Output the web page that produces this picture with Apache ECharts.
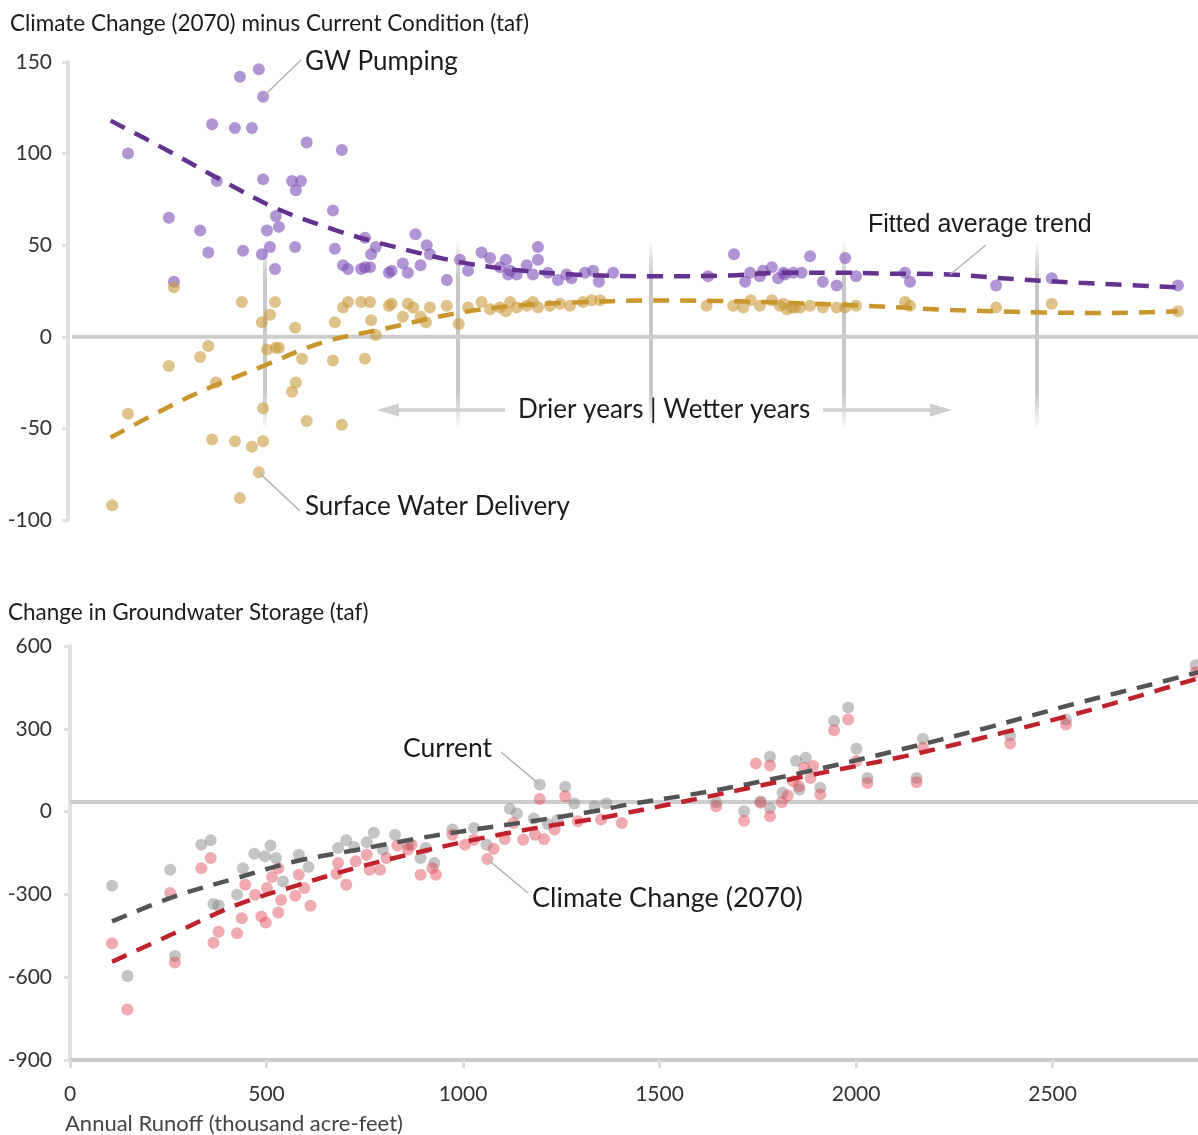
<!DOCTYPE html>
<html><head><meta charset="utf-8">
<script src="https://cdn.jsdelivr.net/npm/echarts@6/dist/echarts.min.js"></script>
<style>html,body{margin:0;padding:0;background:#fff}#c{width:1198px;height:1135px}</style>
</head><body><div id="c"></div>
<script>
// ---------- DATA (runoff in thousand acre-feet, values in taf) ----------
const gwPumping = [[145,100],[251,65],[264,30],[332,58],[353,46],[363,116],[375,85],[422,114],[435,142],[443,47],[466,114],[484,146],[492,45],[495,131],[495,86],[505,58],[513,49],[526,37],[528,66],[536,60],[570,85],[578,49],[580,80],[593,85],[608,106],[676,69],[681,48],[699,102],[702,39],[715,37],[749,37],[759,38],[759,54],[772,38],[775,45],[787,49],[821,35],[828,36],[857,40],[870,35],[890,56],[903,39],[919,50],[927,45],[971,31],[1005,42],[1026,36],[1061,46],[1083,43],[1109,38],[1124,42],[1130,34],[1135,36],[1152,34],[1178,39],[1194,34],[1207,49],[1207,42],[1233,35],[1259,31],[1281,34],[1294,32],[1329,35],[1350,36],[1365,30],[1402,35],[1648,33],[1715,45],[1744,30],[1757,35],[1782,33],[1790,36],[1813,38],[1829,32],[1843,35],[1847,34],[1868,35],[1890,35],[1912,44],[1945,30],[1981,28],[2003,43],[2031,33],[2158,35],[2171,30],[2394,28],[2538,32],[2865,28]];
const swDelivery = [[104,-92],[145,-42],[251,-16],[264,27],[332,-11],[353,-5],[363,-56],[373,-25],[422,-57],[435,-88],[440,19],[466,-60],[484,-74],[492,8],[495,-39],[495,-57],[505,-7],[513,12],[526,19],[528,-6],[536,-6],[570,-30],[578,5],[580,-25],[596,-12],[608,-46],[676,-13],[681,8],[699,-48],[702,16],[715,19],[749,19],[759,-12],[772,19],[775,9],[787,1],[821,17],[828,18],[857,11],[870,18],[884,16],[903,11],[917,8],[927,16],[971,17],[1002,7],[1026,16],[1061,19],[1083,15],[1109,16],[1124,14],[1135,19],[1152,16],[1178,17],[1194,19],[1207,16],[1238,17],[1264,18],[1290,17],[1324,19],[1346,20],[1368,20],[1644,17],[1713,17],[1739,16],[1758,20],[1782,17],[1813,20],[1834,17],[1843,18],[1852,15],[1864,16],[1873,16],[1886,16],[1912,17],[1945,16],[1981,16],[2003,16],[2031,17],[2158,19],[2171,17],[2394,16],[2538,18],[2865,14]];
const gwTrend = [[100,118],[245,102],[400,84],[530,70],[686,58],[800,51],[1000,41],[1150,36.5],[1300,34],[1500,33],[1700,33.5],[1850,35],[2000,35],[2100,34.5],[2270,34],[2440,31.5],[2610,29.5],[2865,27]];
const swTrend = [[100,-55],[306,-32.5],[495,-16],[650,-3],[800,4],[1000,13],[1150,17],[1300,18.7],[1500,19.8],[1660,19.6],[1830,18.7],[2050,17],[2270,14.7],[2520,13.3],[2700,13],[2865,14]];

const currentStorage = [[107,-269],[146,-596],[255,-211],[267,-523],[334,-120],[358,-104],[365,-335],[378,-340],[425,-301],[440,-205],[469,-153],[496,-162],[510,-123],[524,-168],[542,-253],[582,-156],[607,-201],[682,-132],[703,-104],[723,-128],[755,-111],[773,-77],[796,-138],[827,-84],[860,-120],[892,-168],[905,-132],[927,-186],[973,-65],[1028,-59],[1060,-120],[1119,10],[1137,-7],[1180,-25],[1195,98],[1215,-45],[1240,-30],[1260,90],[1283,29],[1335,19],[1365,29],[1644,34],[1715,1],[1757,37],[1781,199],[1781,13],[1813,68],[1847,183],[1856,80],[1872,195],[1909,86],[1944,328],[1980,377],[2001,228],[2029,122],[2154,122],[2170,264],[2392,276],[2534,334],[2864,530]];
const climateStorage = [[107,-477],[146,-717],[255,-295],[267,-547],[334,-205],[358,-168],[365,-475],[378,-435],[425,-441],[437,-386],[446,-265],[471,-301],[487,-380],[498,-402],[501,-277],[514,-237],[530,-366],[537,-320],[530,-205],[573,-305],[582,-229],[596,-277],[612,-341],[678,-225],[682,-186],[703,-265],[727,-180],[755,-156],[762,-211],[789,-211],[805,-168],[833,-123],[860,-138],[869,-120],[892,-229],[922,-205],[931,-229],[973,-84],[1005,-120],[1028,-102],[1062,-172],[1078,-135],[1106,-99],[1128,-41],[1153,-102],[1183,-84],[1195,46],[1206,-99],[1233,-65],[1260,56],[1292,-35],[1351,-29],[1404,-41],[1644,19],[1715,-33],[1745,174],[1757,32],[1781,167],[1781,-17],[1811,34],[1826,58],[1840,110],[1854,92],[1868,159],[1884,122],[1891,165],[1909,62],[1944,295],[1980,334],[2001,183],[2029,104],[2154,106],[2170,231],[2392,247],[2534,316],[2864,505]];
const currentTrend = [[107,-398],[265,-308],[424,-241],[574,-180],[724,-140],[878,-99],[1028,-65],[1187,-32],[1333,1],[1418,25],[1642,77],[1869,143],[2097,219],[2323,300],[2552,389],[2777,470],[2870,505]];
const climateTrend = [[107,-544],[265,-441],[424,-338],[574,-269],[724,-205],[878,-150],[1028,-102],[1187,-59],[1333,-27],[1405,-8],[1629,56],[1869,128],[2125,201],[2374,286],[2618,377],[2870,483]];

const dividerRunoff = [500,1000,1500,2000,2500];
const dividerSpan = [52,-50];
const bottomRefLevel = 35;
const arrowLevel = -40;
const leftArrow = [1122, 790];   // start, tip
const rightArrow = [1946, 2280]; // start, tip

// ---------- CHART ----------
const FONT = 'Lato';
const chart = echarts.init(document.getElementById('c'), null, {renderer: 'canvas'});

const dividerData = [];
dividerRunoff.forEach((x, i) => {
  if (i) dividerData.push('-');
  dividerData.push([x, dividerSpan[0]], [x, dividerSpan[1]]);
});

const yAxisCommon = {
  type: 'value',
  splitLine: {show: false},
  axisLine: {show: true, onZero: false, lineStyle: {color: '#e1e1e1', width: 4}},
  axisTick: {show: true, length: 6, lineStyle: {color: '#e1e1e1', width: 3}},
  axisLabel: {fontFamily: FONT, fontSize: 21, color: '#333', margin: 16}
};

const dashed = (color) => ({color: color, width: 4.5, type: [16, 11], cap: 'butt'});

chart.setOption({
  animation: false,
  backgroundColor: '#fff',
  grid: [
    {left: 72, top: 62, width: 1126, height: 458},
    {left: 70, top: 646, width: 1128, height: 414}
  ],
  xAxis: [
    {gridIndex: 0, type: 'value', min: 0, max: 2917, show: false},
    {gridIndex: 1, type: 'value', min: 0, max: 2870, interval: 500,
     splitLine: {show: false},
     axisLine: {show: true, onZero: false, lineStyle: {color: '#c9c9c9', width: 4}},
     axisTick: {show: true, length: 8, lineStyle: {color: '#dcdcdc', width: 3}},
     axisLabel: {fontFamily: FONT, fontSize: 21, color: '#333', margin: 24, showMaxLabel: false,
                 formatter: (v) => String(v)}}
  ],
  yAxis: [
    Object.assign({}, yAxisCommon, {gridIndex: 0, min: -100, max: 150, interval: 50, offset: 4}),
    Object.assign({}, yAxisCommon, {gridIndex: 1, min: -900, max: 600, interval: 300,
      axisLabel: Object.assign({}, yAxisCommon.axisLabel, {margin: 18})})
  ],
  series: [
    {type: 'line', xAxisIndex: 0, yAxisIndex: 0, data: dividerData, showSymbol: false, silent: true, z: 1,
     lineStyle: {width: 4, color: new echarts.graphic.LinearGradient(0, 0, 0, 1, [
       {offset: 0, color: 'rgba(190,190,190,0)'},
       {offset: 0.2, color: 'rgba(190,190,190,0.85)'},
       {offset: 0.8, color: 'rgba(190,190,190,0.85)'},
       {offset: 1, color: 'rgba(190,190,190,0)'}])}},
    {type: 'line', xAxisIndex: 0, yAxisIndex: 0, data: [[0, 0], [2917, 0]], showSymbol: false, silent: true, z: 1,
     lineStyle: {color: '#cdcdcd', width: 4}},
    {type: 'scatter', name: 'GW Pumping', xAxisIndex: 0, yAxisIndex: 0, data: gwPumping, symbolSize: 12, z: 2,
     itemStyle: {color: '#7d4db5', opacity: 0.6}},
    {type: 'scatter', name: 'Surface Water Delivery', xAxisIndex: 0, yAxisIndex: 0, data: swDelivery, symbolSize: 12, z: 2,
     itemStyle: {color: '#c99a3a', opacity: 0.6}},
    {type: 'line', xAxisIndex: 0, yAxisIndex: 0, data: gwTrend, showSymbol: false, smooth: 0.35, z: 3,
     lineStyle: dashed('#65328f')},
    {type: 'line', xAxisIndex: 0, yAxisIndex: 0, data: swTrend, showSymbol: false, smooth: 0.35, z: 3,
     lineStyle: dashed('#c8962c')},

    {type: 'line', xAxisIndex: 1, yAxisIndex: 1, data: [[0, bottomRefLevel], [2870, bottomRefLevel]], showSymbol: false, silent: true, z: 1,
     lineStyle: {color: '#cdcdcd', width: 4}},
    {type: 'scatter', name: 'Current', xAxisIndex: 1, yAxisIndex: 1, data: currentStorage, symbolSize: 12, z: 2,
     itemStyle: {color: '#8a8a8a', opacity: 0.5}},
    {type: 'scatter', name: 'Climate Change (2070)', xAxisIndex: 1, yAxisIndex: 1, data: climateStorage, symbolSize: 12, z: 2,
     itemStyle: {color: '#dd4450', opacity: 0.45}},
    {type: 'line', xAxisIndex: 1, yAxisIndex: 1, data: currentTrend, showSymbol: false, smooth: 0.35, z: 3,
     lineStyle: dashed('#545454')},
    {type: 'line', xAxisIndex: 1, yAxisIndex: 1, data: climateTrend, showSymbol: false, smooth: 0.35, z: 3,
     lineStyle: dashed('#c0222b')}
  ]
});

// ---------- ANNOTATIONS ----------
const p0 = (v) => chart.convertToPixel({xAxisIndex: 0, yAxisIndex: 0}, v);
const p1 = (v) => chart.convertToPixel({xAxisIndex: 1, yAxisIndex: 1}, v);
const leaderStyle = {stroke: '#b3b3b3', lineWidth: 1.5};
const txt = (x, y, text, size, extra) => Object.assign({
  type: 'text', x: x, y: y, z: 20,
  style: {text: text, font: size + 'px ' + FONT, fill: '#1b1b1b', textVerticalAlign: 'middle'}
}, extra || {});
const leader = (from, to) => ({type: 'line', z: 19, shape: {x1: from[0], y1: from[1], x2: to[0], y2: to[1]}, style: leaderStyle});

const gwPt = p0([495, 131]);
const swPt = p0([484, -74]);
const trendPt = p0([2275, 34]);
const curPt = p1([1195, 98]);
const ccPt = p1([1062, -172]);

const la0 = p0([leftArrow[0], arrowLevel]), la1 = p0([leftArrow[1], arrowLevel]);
const ra0 = p0([rightArrow[0], arrowLevel]), ra1 = p0([rightArrow[1], arrowLevel]);
const mid = p0([1534, arrowLevel]);
const arrowColor = '#cfcfcf';
const headLen = 22, headHalf = 6.5;

const graphics = [
  txt(10, 24, 'Climate Change (2070) minus Current Condition (taf)', 22.5),
  txt(8, 613, 'Change in Groundwater Storage (taf)', 22.5),
  {type: 'text', x: 65, y: 1124, z: 20, style: {text: 'Annual Runoff (thousand acre-feet)', font: '22px ' + FONT, fill: '#444', textVerticalAlign: 'middle'}},
  txt(305, 62, 'GW Pumping', 26),
  leader([301, 60], gwPt),
  txt(305, 507, 'Surface Water Delivery', 26),
  leader([300, 511], swPt),
  {type: 'text', x: 868, y: 225, z: 20, style: {text: 'Fitted average trend', font: '25px "Liberation Sans", Arial', fill: '#1b1b1b', textVerticalAlign: 'middle'}},
  leader([986, 245], trendPt),
  txt(403, 748, 'Current', 26.5),
  leader([501, 752], curPt),
  txt(532, 898, 'Climate Change (2070)', 27),
  leader([528, 893], ccPt),
  {type: 'text', x: mid[0], y: mid[1], z: 20, style: {text: 'Drier years | Wetter years', font: '26px ' + FONT, fill: '#1b1b1b', textAlign: 'center', textVerticalAlign: 'middle'}},
  {type: 'line', z: 19, shape: {x1: la0[0], y1: la0[1], x2: la1[0] + headLen - 2, y2: la1[1]}, style: {stroke: arrowColor, lineWidth: 3.5}},
  {type: 'polygon', z: 19, shape: {points: [[la1[0], la1[1]], [la1[0] + headLen, la1[1] - headHalf], [la1[0] + headLen, la1[1] + headHalf]]}, style: {fill: arrowColor}},
  {type: 'line', z: 19, shape: {x1: ra0[0], y1: ra0[1], x2: ra1[0] - headLen + 2, y2: ra1[1]}, style: {stroke: arrowColor, lineWidth: 3.5}},
  {type: 'polygon', z: 19, shape: {points: [[ra1[0], ra1[1]], [ra1[0] - headLen, ra1[1] - headHalf], [ra1[0] - headLen, ra1[1] + headHalf]]}, style: {fill: arrowColor}}
];
chart.setOption({graphic: graphics});
</script>
</body></html>
